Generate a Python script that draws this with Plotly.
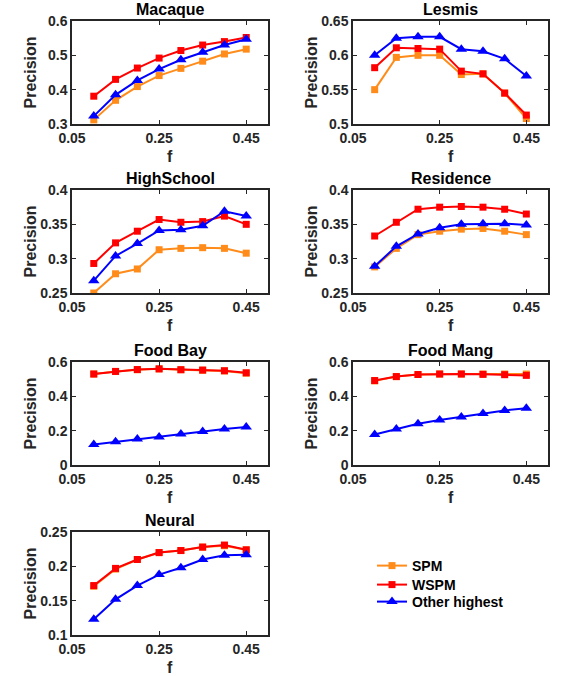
import plotly.graph_objects as go

f_vals = [0.10, 0.15, 0.20, 0.25, 0.30, 0.35, 0.40, 0.45]

titles = ["Macaque", "Lesmis", "HighSchool", "Residence", "Food Bay", "Food Mang", "Neural"]

spm = {
    "Macaque":    [0.312, 0.369, 0.409, 0.441, 0.462, 0.483, 0.504, 0.518],
    "Lesmis":     [0.550, 0.597, 0.600, 0.600, 0.572, 0.573, 0.545, 0.508],
    "HighSchool": [0.250, 0.278, 0.285, 0.313, 0.315, 0.316, 0.315, 0.308],
    "Residence":  [0.288, 0.315, 0.335, 0.340, 0.343, 0.344, 0.340, 0.335],
    "Food Bay":   [0.530, 0.545, 0.555, 0.560, 0.555, 0.552, 0.548, 0.535],
    "Food Mang":  [0.490, 0.515, 0.527, 0.530, 0.530, 0.530, 0.530, 0.530],
    "Neural":     [0.171, 0.196, 0.210, 0.220, 0.223, 0.228, 0.230, 0.224],
}
wspm = {
    "Macaque":    [0.381, 0.430, 0.463, 0.492, 0.514, 0.530, 0.540, 0.552],
    "Lesmis":     [0.582, 0.611, 0.610, 0.609, 0.577, 0.573, 0.545, 0.513],
    "HighSchool": [0.293, 0.323, 0.340, 0.357, 0.353, 0.354, 0.362, 0.350],
    "Residence":  [0.333, 0.353, 0.372, 0.375, 0.376, 0.375, 0.372, 0.365],
    "Food Bay":   [0.530, 0.545, 0.556, 0.560, 0.555, 0.553, 0.549, 0.537],
    "Food Mang":  [0.492, 0.515, 0.527, 0.530, 0.530, 0.528, 0.526, 0.522],
    "Neural":     [0.172, 0.197, 0.210, 0.220, 0.223, 0.228, 0.231, 0.224],
}
other = {
    "Macaque":    [0.323, 0.385, 0.427, 0.460, 0.487, 0.509, 0.530, 0.547],
    "Lesmis":     [0.600, 0.625, 0.627, 0.627, 0.609, 0.606, 0.595, 0.570],
    "HighSchool": [0.268, 0.304, 0.322, 0.341, 0.342, 0.348, 0.369, 0.362],
    "Residence":  [0.289, 0.318, 0.336, 0.345, 0.350, 0.351, 0.351, 0.349],
    "Food Bay":   [0.120, 0.135, 0.152, 0.163, 0.180, 0.195, 0.210, 0.222],
    "Food Mang":  [0.178, 0.210, 0.240, 0.262, 0.280, 0.300, 0.318, 0.330],
    "Neural":     [0.123, 0.152, 0.172, 0.188, 0.198, 0.210, 0.216, 0.217],
}
y_ticks = {
    "Macaque":    [0.3, 0.4, 0.5, 0.6],
    "Lesmis":     [0.5, 0.55, 0.6, 0.65],
    "HighSchool": [0.25, 0.3, 0.35, 0.4],
    "Residence":  [0.25, 0.3, 0.35, 0.4],
    "Food Bay":   [0, 0.2, 0.4, 0.6],
    "Food Mang":  [0, 0.2, 0.4, 0.6],
    "Neural":     [0.1, 0.15, 0.2, 0.25],
}
y_ticktext = {
    "Macaque":    ["0.3", "0.4", "0.5", "0.6"],
    "Lesmis":     ["0.5", "0.55", "0.6", "0.65"],
    "HighSchool": ["0.25", "0.3", "0.35", "0.4"],
    "Residence":  ["0.25", "0.3", "0.35", "0.4"],
    "Food Bay":   ["0", "0.2", "0.4", "0.6"],
    "Food Mang":  ["0", "0.2", "0.4", "0.6"],
    "Neural":     ["0.1", "0.15", "0.2", "0.25"],
}
x_ticks = [0.05, 0.25, 0.45]
x_ticktext = ["0.05", "0.25", "0.45"]
series_names = ["SPM", "WSPM", "Other highest"]

W, H = 561, 676
FONT = "Liberation Sans, Arial, sans-serif"
C_SPM = "#FF8C1A"
C_WSPM = "#FF0000"
C_OTHER = "#0000FF"
AX = "#262626"

# page-pixel layout of each axes box
col_px = [(72, 268), (353, 548)]
row_px = [(21, 124), (190, 293), (362, 465), (532, 635)]


def px(xp):
    return xp / W


def py(yp):
    return 1 - yp / H


fig = go.Figure()
annotations = []
legend_ids = ["legend", "legend2", "legend3"]
for i, name in enumerate(titles):
    r, c = divmod(i, 2)
    x0, x1 = col_px[c]
    y0, y1 = row_px[r]
    k = "" if i == 0 else str(i + 1)
    xa, ya = "x" + k, "y" + k
    show = (i == 0)
    for j, (label, data, color, sym, msize) in enumerate([
        (series_names[0], spm, C_SPM, "square", 7),
        (series_names[1], wspm, C_WSPM, "square", 7),
        (series_names[2], other, C_OTHER, "triangle-up", 10),
    ]):
        fig.add_trace(go.Scatter(
            x=f_vals, y=data[name], mode="lines+markers", name=label,
            line=dict(color=color, width=2),
            marker=dict(color=color, symbol=sym, size=msize),
            showlegend=show, legend=legend_ids[j], xaxis=xa, yaxis=ya,
        ))
    yt = y_ticks[name]
    axis_common = dict(showline=True, mirror="ticks", linecolor=AX, linewidth=1.5,
                       ticks="inside", ticklen=4, tickcolor=AX, showgrid=False,
                       zeroline=False, automargin=False,
                       tickfont=dict(family=FONT, size=14, color=AX, weight="bold"))
    fig.layout["xaxis" + k] = dict(
        domain=[px(x0), px(x1)], anchor=ya, range=[0.05, 0.5],
        tickvals=x_ticks, ticktext=x_ticktext, **axis_common)
    fig.layout["yaxis" + k] = dict(
        domain=[py(y1), py(y0)], anchor=xa, range=[yt[0], yt[-1]],
        tickvals=yt, ticktext=y_ticktext[name], **axis_common)
    annotations.append(dict(text="<b>" + name + "</b>", x=px((x0 + x1) / 2), y=py(y0 - 1),
                            xref="paper", yref="paper", xanchor="center", yanchor="bottom",
                            showarrow=False, font=dict(family=FONT, size=16, color="black")))
    annotations.append(dict(text="<b>f</b>", x=px((x0 + x1) / 2), y=py(y1 + 22),
                            xref="paper", yref="paper", xanchor="center", yanchor="top",
                            showarrow=False, font=dict(family=FONT, size=16, color=AX)))
    annotations.append(dict(text="<b>Precision</b>", x=px(x0 - 42), y=py((y0 + y1) / 2),
                            xref="paper", yref="paper", xanchor="center", yanchor="middle",
                            textangle=-90, showarrow=False,
                            font=dict(family=FONT, size=16, color=AX)))

leg_common = dict(xanchor="left", yanchor="top",
                  font=dict(family=FONT, size=14, color="black", weight="bold"),
                  bgcolor="rgba(0,0,0,0)", borderwidth=0, itemwidth=30)
leg_x = px(413 - 41)
fig.update_layout(
    template="none",
    width=W, height=H,
    margin=dict(l=0, r=0, t=0, b=0, pad=0),
    paper_bgcolor="white", plot_bgcolor="white",
    font=dict(family=FONT),
    annotations=annotations,
    showlegend=True,
    legend=dict(x=leg_x, y=py(550), **leg_common),
    legend2=dict(x=leg_x, y=py(569), **leg_common),
    legend3=dict(x=leg_x, y=py(586), **leg_common),
)

fig.write_html("out.html",
               config={"displayModeBar": False},
               post_script="document.body.style.margin='0';document.body.style.overflow='hidden';")
